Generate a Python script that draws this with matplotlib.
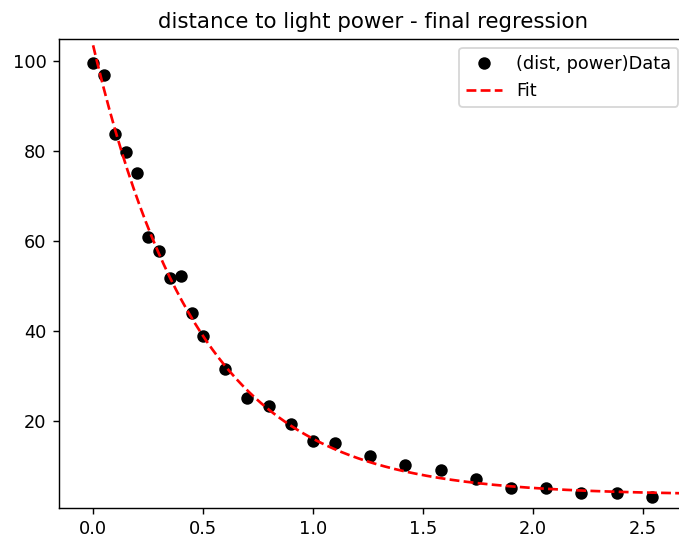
import numpy as np
import matplotlib
matplotlib.use("Agg")
import matplotlib.pyplot as plt

# Data
dist = [0.0, 0.05, 0.1, 0.15, 0.2, 0.25, 0.3, 0.35, 0.4, 0.45, 0.5,
        0.6, 0.7, 0.8, 0.9, 1.0, 1.1, 1.26, 1.42, 1.58, 1.74, 1.90,
        2.06, 2.22, 2.38, 2.54]
power = [99.6, 96.8, 83.7, 79.8, 75.0, 60.9, 57.8, 51.8, 52.2, 43.9, 38.9,
         31.5, 25.0, 23.2, 19.3, 15.6, 15.0, 12.2, 10.2, 9.0, 7.0, 5.0,
         5.0, 3.9, 3.9, 3.0]

# Fit curve parameters (exponential decay)
fit_a = 100.0
fit_b = 2.08
fit_c = 3.5
fit_x_range = (0.0, 2.75)

x_ticks = [0.0, 0.5, 1.0, 1.5, 2.0, 2.5]
y_ticks = [20, 40, 60, 80, 100]

DPI = 128
fig = plt.figure(figsize=(679/DPI, 537/DPI), dpi=DPI)
ax = fig.add_axes([59/679, (537-507.7)/537, (687-59)/679, (507.7-39)/537])

ax.plot(dist, power, 'o', color='black', markersize=6, label='(dist, power)Data')
xf = np.linspace(fit_x_range[0], fit_x_range[1], 300)
ax.plot(xf, fit_a * np.exp(-fit_b * xf) + fit_c, '--', color='red', linewidth=1.5, label='Fit')

ax.set_xlim(-0.155, 2.70)
ax.set_ylim(0.67, 104.9)
ax.set_xticks(x_ticks)
ax.set_yticks(y_ticks)
ax.set_title('distance to light power - final regression')
ax.legend(loc='upper right')

fig.savefig('out.png', dpi=DPI)
